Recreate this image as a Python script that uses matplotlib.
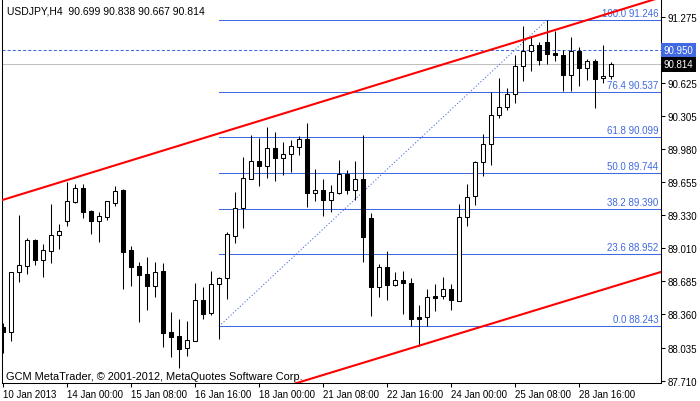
import matplotlib
matplotlib.use("Agg")
import matplotlib.pyplot as plt
import matplotlib.transforms as mtransforms
import numpy as np

plt.rcParams["font.family"] = ["Liberation Sans", "DejaVu Sans"]
plt.rcParams["lines.scale_dashes"] = False

# USDJPY H4 bars, 10 Jan 2013 16:00 .. 29 Jan 2013 08:00
opens = [
    88.236, 88.184, 88.773, 88.837, 89.089, 88.896, 88.984, 89.135, 89.278, 89.465,
    89.596, 89.371, 89.278, 89.318, 89.455, 89.579, 88.991, 88.831, 88.756, 88.641,
    88.782, 88.187, 88.148, 88.028, 88.102, 88.501, 88.371, 88.655, 88.714, 89.131,
    89.400, 89.690, 89.864, 89.818, 89.988, 89.890, 89.929, 90.004, 90.077, 89.553,
    89.579, 89.484, 89.553, 89.739, 89.582, 89.687, 89.305, 88.626, 88.822, 88.651,
    88.694, 88.665, 88.331, 88.331, 88.537, 88.537, 88.606, 88.494, 89.312, 89.518,
    89.851, 90.027, 90.318, 90.396, 90.518, 90.792, 90.939, 90.998, 91.033, 90.923,
    90.903, 90.710, 90.939, 90.779, 90.844, 90.675, 90.699,
]
highs = [
    88.276, 88.780, 89.334, 89.109, 89.099, 89.050, 89.442, 89.246, 89.655, 89.638,
    89.638, 89.381, 89.361, 89.469, 89.616, 89.589, 89.033, 88.871, 88.920, 88.871,
    88.861, 88.383, 88.315, 88.295, 88.668, 88.628, 88.782, 88.727, 89.165, 89.557,
    89.903, 90.119, 90.089, 90.194, 90.145, 90.047, 90.067, 90.109, 90.236, 89.785,
    89.687, 89.628, 89.874, 89.776, 89.864, 90.119, 89.354, 88.854, 88.981, 88.778,
    88.785, 88.714, 88.452, 88.609, 88.655, 88.724, 88.655, 89.442, 89.638, 89.867,
    90.128, 90.537, 90.677, 90.579, 90.903, 91.184, 91.092, 91.033, 91.246, 91.141,
    90.955, 91.077, 90.978, 90.864, 90.864, 91.001, 90.838,
]
lows = [
    87.981, 88.102, 88.675, 88.759, 88.847, 88.729, 88.867, 89.004, 89.229, 89.455,
    89.308, 89.151, 89.073, 89.288, 89.426, 88.612, 88.641, 88.282, 88.406, 88.533,
    88.043, 87.939, 87.831, 87.955, 88.096, 88.315, 88.357, 88.119, 88.511, 89.060,
    89.210, 89.690, 89.622, 89.700, 89.671, 89.729, 89.759, 89.926, 89.416, 89.475,
    89.327, 89.367, 89.543, 89.540, 89.484, 88.877, 88.347, 88.533, 88.504, 88.641,
    88.367, 88.249, 88.053, 88.249, 88.396, 88.511, 88.406, 88.494, 89.229, 89.432,
    89.720, 89.827, 90.282, 90.367, 90.432, 90.651, 90.749, 90.805, 90.815, 90.847,
    90.553, 90.553, 90.602, 90.661, 90.383, 90.628, 90.667,
]
closes = [
    88.187, 88.773, 88.841, 89.089, 88.896, 88.991, 89.135, 89.175, 89.469, 89.596,
    89.367, 89.278, 89.322, 89.469, 89.567, 88.975, 88.827, 88.749, 88.641, 88.773,
    88.180, 88.141, 88.024, 88.106, 88.501, 88.367, 88.658, 88.714, 89.145, 89.403,
    89.697, 89.861, 89.818, 89.988, 89.890, 89.929, 90.014, 90.077, 89.553, 89.579,
    89.484, 89.557, 89.739, 89.582, 89.687, 89.122, 88.626, 88.822, 88.651, 88.694,
    88.665, 88.318, 88.318, 88.527, 88.524, 88.606, 88.498, 89.312, 89.508, 89.851,
    90.027, 90.312, 90.396, 90.518, 90.792, 90.939, 90.998, 90.857, 90.916, 90.903,
    90.710, 90.939, 90.776, 90.844, 90.671, 90.694, 90.814,
]

date_ticks = [0, 8, 16, 24, 32, 40, 48, 56, 64, 72]
date_labels = ["10 Jan 2013", "14 Jan 00:00", "15 Jan 08:00", "16 Jan 16:00", "18 Jan 00:00",
               "21 Jan 08:00", "22 Jan 16:00", "24 Jan 00:00", "25 Jan 08:00", "28 Jan 16:00"]
price_ticks = [91.275, 90.950, 90.625, 90.305, 89.980, 89.655, 89.330, 89.010,
               88.685, 88.360, 88.035, 87.710]

fib_pcts = ["0.0", "23.6", "38.2", "50.0", "61.8", "76.4", "100.0"]
fib_prices = [88.243, 88.952, 89.390, 89.744, 90.099, 90.537, 91.246]
fib_start = 27
fib_end = 68

upper_channel = [(-0.125, 89.480), (80.25, 91.420)]
lower_channel = [(55.875, 88.145), (82.25, 88.776)]

hline_price = 90.950
bid_price = 90.814

BLUE = "#4169E1"

fig = plt.figure(figsize=(7, 4.02), dpi=100)
ax = fig.add_axes([2 / 700, 18 / 402, 659 / 700, 384 / 402])
ax.set_xlim(-0.125, 82.25)
ax.set_ylim(87.687, 91.452)

x = np.arange(len(opens))
o = np.array(opens)
c = np.array(closes)

# horizontal objects
ax.axhline(bid_price, color="#C0C0C0", lw=0.75, zorder=1)
ax.axhline(hline_price, color=BLUE, lw=0.75, dashes=(2.2, 1.5), zorder=1)
for pct, p in zip(fib_pcts, fib_prices):
    ax.plot([fib_start, 82.25], [p, p], color=BLUE, lw=0.75, zorder=1)
    ax.text(81.9, p + 0.02, f"{pct} {p:.3f}", ha="right", va="bottom",
            fontsize=7, color=BLUE, zorder=1)
ax.plot([fib_start, fib_end], [fib_prices[0], fib_prices[-1]], color=BLUE,
        lw=0.75, dashes=(0.8, 1.5), zorder=1)

# candles
ax.vlines(x, lows, highs, color="black", lw=0.75, zorder=2)
up = c >= o
ax.bar(x[up], (c - o)[up], bottom=o[up], width=0.42, color="white",
       edgecolor="black", lw=0.75, zorder=3)
ax.bar(x[~up], (o - c)[~up], bottom=c[~up], width=0.42, color="black",
       edgecolor="black", lw=0.75, zorder=3)

# channel lines
for (x0, y0), (x1, y1) in [upper_channel, lower_channel]:
    k = (y1 - y0) / (x1 - x0)
    xs = np.array([-5, 90])
    ax.plot(xs, y0 + k * (xs - x0), color="red", lw=1.5, zorder=4)

# axes styling
ax.spines["top"].set_visible(False)
for s in ["left", "right", "bottom"]:
    ax.spines[s].set_linewidth(0.75)
ax.yaxis.tick_right()
ax.set_yticks(price_ticks)
# the 90.950 tick sits under the horizontal line's price box
ax.set_yticklabels(["" if p == hline_price else f"{p:.3f}" for p in price_ticks])
ax.tick_params(axis="y", length=3, width=0.75, pad=2, labelsize=7)
ax.set_xticks(date_ticks)
ax.set_xticklabels(date_labels, ha="left")
ax.tick_params(axis="x", length=3, width=0.75, pad=1, labelsize=7)

trans = mtransforms.blended_transform_factory(ax.transAxes, ax.transData)
ax.text(1.004, hline_price, f"{hline_price:.3f}", transform=trans, ha="left", va="center",
        fontsize=7, color="white", zorder=10, clip_on=False,
        bbox=dict(boxstyle="square,pad=0.25", fc=BLUE, ec="none"))
ax.text(1.004, bid_price, f"{bid_price:.3f}", transform=trans, ha="left", va="center",
        fontsize=7, color="white", zorder=10, clip_on=False,
        bbox=dict(boxstyle="square,pad=0.25", fc="black", ec="none"))

ax.text(5 / 659, 1 - 11 / 384, "USDJPY,H4  90.699 90.838 90.667 90.814",
        transform=ax.transAxes, ha="left", va="center", fontsize=7.5)
ax.text(4 / 659, 7 / 384, "GCM MetaTrader, \u00a9 2001-2012, MetaQuotes Software Corp.",
        transform=ax.transAxes, ha="left", va="center", fontsize=7.9)

fig.savefig("out.png", dpi=100)
